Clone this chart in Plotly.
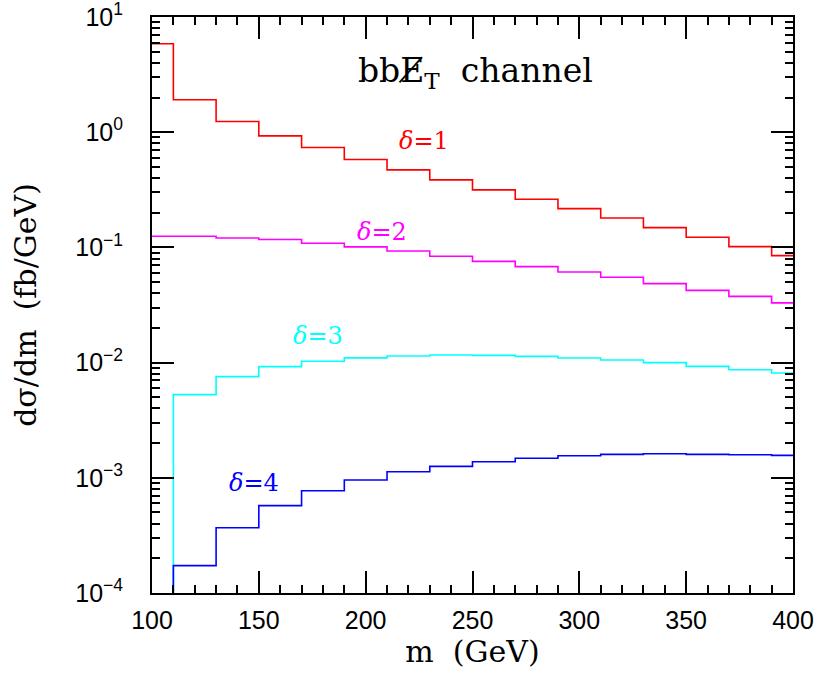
import math
import plotly.graph_objects as go

# bin edges (GeV)
edges = [100, 110, 130, 150, 170, 190, 210, 230, 250, 270, 290, 310, 330, 350, 370, 390, 400]

# dsigma/dm (fb/GeV) per bin
delta1 = [5.85, 1.91, 1.237, 0.929, 0.736, 0.579, 0.471, 0.386, 0.316, 0.262, 0.217, 0.180, 0.1486, 0.1225, 0.1016, 0.0849]
delta2 = [0.125, 0.125, 0.1208, 0.117, 0.1086, 0.101, 0.0931, 0.0838, 0.0757, 0.0681, 0.0612, 0.055, 0.0485, 0.0424, 0.0376, 0.033]
delta3 = [1e-6, 0.00527, 0.00755, 0.00922, 0.01026, 0.0110, 0.01142, 0.01164, 0.01156, 0.01133, 0.01097, 0.01054, 0.0100, 0.00927, 0.00868, 0.00813]
delta4 = [1e-7, 1.73e-4, 3.69e-4, 5.73e-4, 7.73e-4, 9.57e-4, 1.13e-3, 1.256e-3, 1.38e-3, 1.476e-3, 1.556e-3, 1.597e-3, 1.618e-3, 1.597e-3, 1.585e-3, 1.565e-3]

series = [
    ("δ=1", delta1, "#ff0000"),
    ("δ=2", delta2, "#ff00ff"),
    ("δ=3", delta3, "#00ffff"),
    ("δ=4", delta4, "#0000ff"),
]

# label positions (m, dsigma/dm)
labels = [
    ("1", 227.3, 0.846, "#ff0000"),
    ("2", 207.6, 0.137, "#ff00ff"),
    ("3", 177.7, 0.01714, "#00ffff"),
    ("4", 147.7, 9.06e-4, "#0000ff"),
]

FONT = "DejaVu Serif, serif"
TICKFONT = "Liberation Sans, Arial, sans-serif"

fig = go.Figure()
for name, vals, col in series:
    fig.add_trace(go.Scatter(
        x=edges, y=vals + [vals[-1]], mode="lines", line_shape="hv",
        line=dict(color=col, width=1.6), name=name, showlegend=False,
        hoverinfo="skip"))

for num, xv, yv, col in labels:
    fig.add_annotation(x=xv, y=math.log10(yv), yref="y", xref="x", text=f"<i>δ</i>={num}",
                       showarrow=False, font=dict(family=FONT, size=24, color=col),
                       xanchor="center", yanchor="middle")

fig.add_annotation(x=(475.5 - 152) / 641, y=(593 - 72) / 576, xref="paper", yref="paper",
                   text="bbE\u0338<sub>T</sub>  channel", showarrow=False,
                   font=dict(family=FONT, size=33, color="black"),
                   xanchor="center", yanchor="middle")

decades = [-4, -3, -2, -1, 0, 1]
ytickvals = [10 ** d for d in decades]
yticktext = [f"10<sup>{str(d).replace('-', '−')}</sup>" for d in decades]
yminor = [m * 10 ** d for d in decades[:-1] for m in range(2, 10)]

fig.update_layout(
    width=817, height=675,
    margin=dict(l=152, r=24, t=17, b=82),
    plot_bgcolor="white", paper_bgcolor="white",
    font=dict(family=FONT, size=22, color="black"),
    xaxis=dict(
        range=[100, 400], tickmode="array", tickvals=[100, 150, 200, 250, 300, 350, 400],
        ticks="inside", ticklen=22, tickwidth=2, tickcolor="black",
        minor=dict(tickmode="array", tickvals=[x for x in range(110, 400, 10) if x % 50 != 0],
                   ticks="inside", ticklen=8, tickwidth=2, tickcolor="black"),
        showline=True, linecolor="black", linewidth=2, mirror="allticks",
        showgrid=False, zeroline=False, automargin=False,
        tickfont=dict(family=TICKFONT, size=25),
        ticklabelstandoff=4, ticklabeloverflow="allow",
        title=dict(text="m  (GeV)", font=dict(family=FONT, size=30), standoff=4),
    ),
    yaxis=dict(
        type="log", range=[-4, 1], tickmode="array", tickvals=ytickvals, ticktext=yticktext,
        ticks="inside", ticklen=22, tickwidth=2, tickcolor="black",
        minor=dict(tickmode="array", tickvals=yminor,
                   ticks="inside", ticklen=8, tickwidth=2, tickcolor="black"),
        showline=True, linecolor="black", linewidth=2, mirror="allticks",
        showgrid=False, zeroline=False, automargin=False,
        tickfont=dict(family=TICKFONT, size=25),
        ticklabelstandoff=22, ticklabeloverflow="allow",
        title=dict(text="dσ/dm  (fb/GeV)", font=dict(family=FONT, size=30), standoff=30),
    ),
)

fig.write_html("out.html", config={"displayModeBar": False},
               post_script="document.body.style.margin='0';")
